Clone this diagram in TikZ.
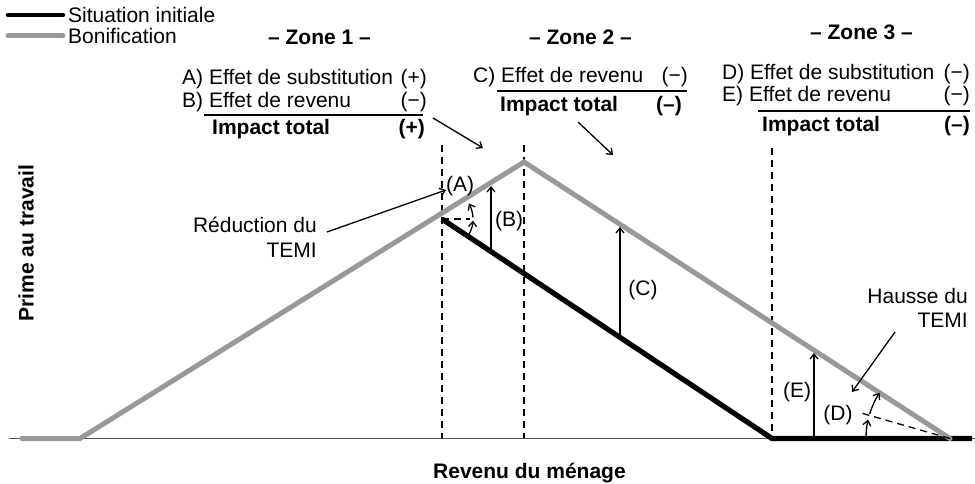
\documentclass[tikz,border=0pt]{standalone}
\usepackage{fontspec}
\setmainfont{Liberation Sans}
\usetikzlibrary{arrows.meta}
\definecolor{bongray}{RGB}{153,153,153}
\definecolor{axisgray}{RGB}{80,80,80}
\begin{document}
\begin{tikzpicture}[x=1pt,y=-1pt,
  font=\fontsize{21}{25}\selectfont,
  txt/.style={inner sep=0pt},
  bw/.style={txt,anchor=base west},
  be/.style={txt,anchor=base east},
  lbl/.style={txt,anchor=center},
  arr/.style={line width=1.3pt,-{Straight Barb[length=5pt,width=8pt]}},
  zonedash/.style={line width=1.5pt,dash pattern=on 7pt off 5pt},
  refdash/.style={line width=1.3pt,dash pattern=on 7pt off 5pt},
  blackline/.style={line width=5.2pt,black},
  grayline/.style={line width=5pt,bongray},
  rule/.style={line width=1.2pt}]
\useasboundingbox (0,0) rectangle (975,484);

% legend
\coordinate (l1a) at (8,15); \coordinate (l1b) at (63,15);
\coordinate (l2a) at (8,36); \coordinate (l2b) at (63,36);
\draw[line width=4.5pt,line cap=round] (l1a) -- (l1b);
\draw[line width=5pt,bongray,line cap=round] (l2a) -- (l2b);
\node[bw] (leg1) at (68,23) {Situation initiale};
\node[bw] (leg2) at (68,44) {Bonification};

% zone headings
\node[txt,anchor=base,font=\fontsize{21}{25}\selectfont\bfseries] (z1) at (319.5,45) {– Zone 1 –};
\node[txt,anchor=base,font=\fontsize{21}{25}\selectfont\bfseries] (z2) at (580.5,45) {– Zone 2 –};
\node[txt,anchor=base,font=\fontsize{21}{25}\selectfont\bfseries] (z3) at (861.5,40) {– Zone 3 –};

% zone 1 table
\node[bw] (a1) at (182,85) {A) Effet de substitution};
\node[be] (a1s) at (427,85) {(+)};
\node[bw] (b1) at (182,108) {B) Effet de revenu};
\node[be] (b1s) at (427,108) {(−)};
\coordinate (r1a) at (204,115); \coordinate (r1b) at (423,115);
\draw[rule] (r1a) -- (r1b);
\node[bw,font=\fontsize{21}{25}\selectfont\bfseries] (t1) at (212,135) {Impact total};
\node[be,font=\fontsize{21}{25}\selectfont\bfseries] (t1s) at (425,135) {(+)};

% zone 2 table
\node[bw] (c2) at (473,83) {C) Effet de revenu};
\node[be] (c2s) at (688,83) {(−)};
\coordinate (r2a) at (497,91); \coordinate (r2b) at (687,91);
\draw[rule] (r2a) -- (r2b);
\node[bw,font=\fontsize{21}{25}\selectfont\bfseries] (t2) at (500,112) {Impact total};
\node[be,font=\fontsize{21}{25}\selectfont\bfseries] (t2s) at (682,112) {(–)};

% zone 3 table
\node[bw] (d3) at (722,80) {D) Effet de substitution};
\node[be] (d3s) at (970,80) {(−)};
\node[bw] (e3) at (722,102) {E) Effet de revenu};
\node[be] (e3s) at (970,102) {(−)};
\coordinate (r3a) at (758,111); \coordinate (r3b) at (970,111);
\draw[rule] (r3a) -- (r3b);
\node[bw,font=\fontsize{21}{25}\selectfont\bfseries] (t3) at (762,132) {Impact total};
\node[be,font=\fontsize{21}{25}\selectfont\bfseries] (t3s) at (970,132) {(–)};

% vertical zone separators
\coordinate (v1t) at (442,145); \coordinate (v1b) at (442,439);
\coordinate (v2t) at (524,145); \coordinate (v2b) at (524,439);
\coordinate (v3t) at (772,148); \coordinate (v3b) at (772,439);
\draw[zonedash] (v1t) -- (v1b);
\draw[zonedash] (v2t) -- (v2b);
\draw[zonedash] (v3t) -- (v3b);

% axis
\coordinate (ax0) at (9,438.5); \coordinate (ax1) at (975,438.5);
\draw[line width=1.2pt,axisgray] (ax0) -- (ax1);

% curves
\coordinate (C) at (442,219);
\coordinate (bk) at (772,438.5);
\coordinate (bend) at (972,438.5);
\coordinate (g0) at (22,438.5);
\coordinate (g1) at (80,438.5);
\coordinate (peak) at (524,162);
\coordinate (E) at (950,438.5);
\draw[blackline] (C) -- (bk) -- (bend);
\draw[grayline,line cap=round] (g0) -- (g1) -- (peak) -- (E);

% reference dashed lines and angle arcs
\draw[refdash] (C) -- ++(28,0);
\draw[arr] (C) ++(33.7:31) arc[start angle=33.7,end angle=3,radius=31];
\draw[arr] (C) ++(-3:31) arc[start angle=-3,end angle=-30,radius=31];
\draw[refdash] (E) -- ++(196:91);
\draw[arr] (E) ++(180:84) arc[start angle=180,end angle=193,radius=84];
\draw[arr] (E) ++(197:84) arc[start angle=197,end angle=213,radius=84];

% vertical effect arrows
\coordinate (Bb) at (491,251.7); \coordinate (Bt) at (491,186);
\coordinate (Cb) at (620,337.7); \coordinate (Ct) at (620,227);
\coordinate (Eb) at (814,438.5); \coordinate (Et) at (814,353);
\draw[arr] (Bb) -- (Bt);
\draw[arr] (Cb) -- (Ct);
\draw[arr] (Eb) -- (Et);

% effect labels
\node[lbl] (lA) at (460,186) {(A)};
\node[lbl] (lB) at (509,221) {(B)};
\node[lbl] (lC) at (643,290) {(C)};
\node[lbl] (lD) at (838,415) {(D)};
\node[lbl] (lE) at (797,392) {(E)};

% annotations
\node[be] (red1) at (317,232) {Réduction du};
\node[be] (red2) at (317,257) {TEMI};
\node[be] (hau1) at (968,303) {Hausse du};
\node[be] (hau2) at (968,327) {TEMI};
\coordinate (redS) at (327,232); \coordinate (redA) at (446,190);
\draw[arr] (redS) -- (redA);
\coordinate (hauS) at (895,332); \coordinate (hauA) at (852,392);
\draw[arr] (hauS) -- (hauA);
\coordinate (z1S) at (433,118); \coordinate (z1A) at (483,148);
\draw[arr] (z1S) -- (z1A);
\coordinate (z2S) at (578,122); \coordinate (z2A) at (613,155);
\draw[arr] (z2S) -- (z2A);

% axis titles
\node[txt,rotate=90,font=\fontsize{21}{25}\selectfont\bfseries] (ylab) at (26,243) {Prime au travail};
\node[bw,font=\fontsize{21}{25}\selectfont\bfseries] (xlab) at (433,478) {Revenu du ménage};
\end{tikzpicture}
\end{document}
